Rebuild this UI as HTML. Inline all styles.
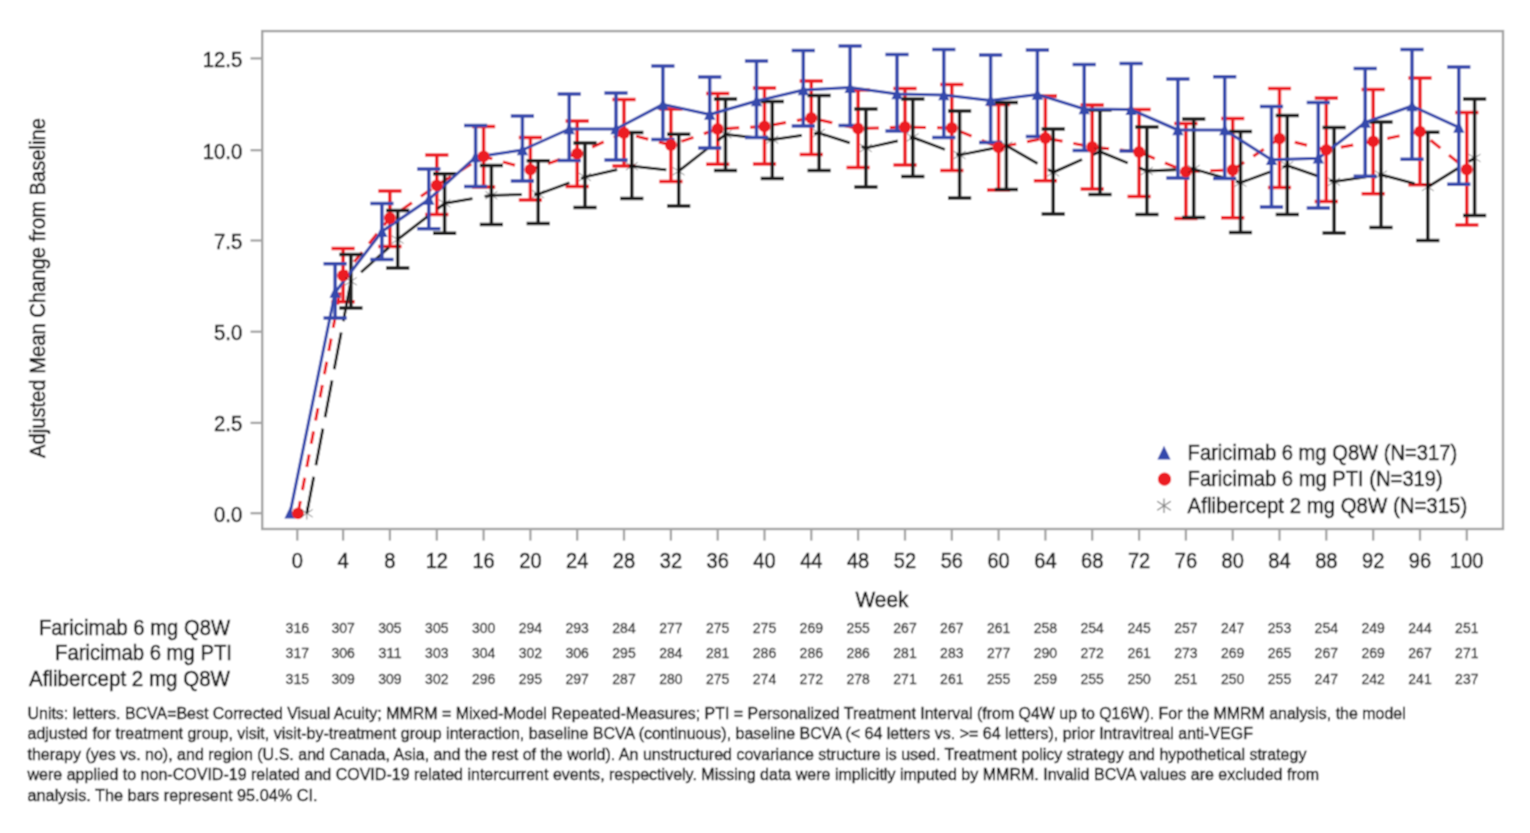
<!DOCTYPE html>
<html><head><meta charset="utf-8"><title>Adjusted Mean Change from Baseline</title>
<style>html,body{margin:0;padding:0;background:#fff}svg{display:block}</style></head>
<body>
<svg width="1530" height="833" viewBox="0 0 1530 833">
<defs><filter id="soft" x="0" y="0" width="1530" height="833" filterUnits="userSpaceOnUse"><feConvolveMatrix order="3" kernelMatrix="1 2 1 2 4 2 1 2 1" divisor="16" edgeMode="duplicate" preserveAlpha="true"/></filter></defs>
<rect width="1530" height="833" fill="#fff"/>
<g filter="url(#soft)">
<rect width="1530" height="833" fill="#fff"/>
<rect x="262.2" y="31.1" width="1240.8" height="497.9" fill="none" stroke="#a3a3a3" stroke-width="2.4"/>
<g stroke="#a3a3a3" stroke-width="2.3">
<line x1="250.5" x2="262" y1="513.2" y2="513.2"/>
<line x1="250.5" x2="262" y1="422.9" y2="422.9"/>
<line x1="250.5" x2="262" y1="331.7" y2="331.7"/>
<line x1="250.5" x2="262" y1="240.5" y2="240.5"/>
<line x1="250.5" x2="262" y1="150.2" y2="150.2"/>
<line x1="250.5" x2="262" y1="58.4" y2="58.4"/>
<line x1="297.3" x2="297.3" y1="529" y2="540.6"/>
<line x1="343.1" x2="343.1" y1="529" y2="540.6"/>
<line x1="389.9" x2="389.9" y1="529" y2="540.6"/>
<line x1="436.8" x2="436.8" y1="529" y2="540.6"/>
<line x1="483.6" x2="483.6" y1="529" y2="540.6"/>
<line x1="530.4" x2="530.4" y1="529" y2="540.6"/>
<line x1="577.2" x2="577.2" y1="529" y2="540.6"/>
<line x1="624.0" x2="624.0" y1="529" y2="540.6"/>
<line x1="670.9" x2="670.9" y1="529" y2="540.6"/>
<line x1="717.7" x2="717.7" y1="529" y2="540.6"/>
<line x1="764.5" x2="764.5" y1="529" y2="540.6"/>
<line x1="811.3" x2="811.3" y1="529" y2="540.6"/>
<line x1="858.1" x2="858.1" y1="529" y2="540.6"/>
<line x1="905.0" x2="905.0" y1="529" y2="540.6"/>
<line x1="951.8" x2="951.8" y1="529" y2="540.6"/>
<line x1="998.6" x2="998.6" y1="529" y2="540.6"/>
<line x1="1045.4" x2="1045.4" y1="529" y2="540.6"/>
<line x1="1092.2" x2="1092.2" y1="529" y2="540.6"/>
<line x1="1139.1" x2="1139.1" y1="529" y2="540.6"/>
<line x1="1185.9" x2="1185.9" y1="529" y2="540.6"/>
<line x1="1232.7" x2="1232.7" y1="529" y2="540.6"/>
<line x1="1279.5" x2="1279.5" y1="529" y2="540.6"/>
<line x1="1326.3" x2="1326.3" y1="529" y2="540.6"/>
<line x1="1373.2" x2="1373.2" y1="529" y2="540.6"/>
<line x1="1420.0" x2="1420.0" y1="529" y2="540.6"/>
<line x1="1466.8" x2="1466.8" y1="529" y2="540.6"/>
</g>
<g font-family="'Liberation Sans', sans-serif" font-size="22" fill="#1a1a1a" stroke="#1a1a1a" stroke-width="0.55">
<g text-anchor="end">
<text x="242.3" y="521.7" textLength="28.2" lengthAdjust="spacingAndGlyphs">0.0</text>
<text x="242.3" y="431.4" textLength="28.2" lengthAdjust="spacingAndGlyphs">2.5</text>
<text x="242.3" y="340.2" textLength="28.2" lengthAdjust="spacingAndGlyphs">5.0</text>
<text x="242.3" y="249.0" textLength="28.2" lengthAdjust="spacingAndGlyphs">7.5</text>
<text x="242.3" y="158.7" textLength="39.5" lengthAdjust="spacingAndGlyphs">10.0</text>
<text x="242.3" y="66.9" textLength="39.5" lengthAdjust="spacingAndGlyphs">12.5</text>
</g>
<g text-anchor="middle">
<text x="297.3" y="567.6" textLength="11.2" lengthAdjust="spacingAndGlyphs">0</text>
<text x="343.1" y="567.6" textLength="11.2" lengthAdjust="spacingAndGlyphs">4</text>
<text x="389.9" y="567.6" textLength="11.2" lengthAdjust="spacingAndGlyphs">8</text>
<text x="436.8" y="567.6" textLength="22.3" lengthAdjust="spacingAndGlyphs">12</text>
<text x="483.6" y="567.6" textLength="22.3" lengthAdjust="spacingAndGlyphs">16</text>
<text x="530.4" y="567.6" textLength="22.3" lengthAdjust="spacingAndGlyphs">20</text>
<text x="577.2" y="567.6" textLength="22.3" lengthAdjust="spacingAndGlyphs">24</text>
<text x="624.0" y="567.6" textLength="22.3" lengthAdjust="spacingAndGlyphs">28</text>
<text x="670.9" y="567.6" textLength="22.3" lengthAdjust="spacingAndGlyphs">32</text>
<text x="717.7" y="567.6" textLength="22.3" lengthAdjust="spacingAndGlyphs">36</text>
<text x="764.5" y="567.6" textLength="22.3" lengthAdjust="spacingAndGlyphs">40</text>
<text x="811.3" y="567.6" textLength="22.3" lengthAdjust="spacingAndGlyphs">44</text>
<text x="858.1" y="567.6" textLength="22.3" lengthAdjust="spacingAndGlyphs">48</text>
<text x="905.0" y="567.6" textLength="22.3" lengthAdjust="spacingAndGlyphs">52</text>
<text x="951.8" y="567.6" textLength="22.3" lengthAdjust="spacingAndGlyphs">56</text>
<text x="998.6" y="567.6" textLength="22.3" lengthAdjust="spacingAndGlyphs">60</text>
<text x="1045.4" y="567.6" textLength="22.3" lengthAdjust="spacingAndGlyphs">64</text>
<text x="1092.2" y="567.6" textLength="22.3" lengthAdjust="spacingAndGlyphs">68</text>
<text x="1139.1" y="567.6" textLength="22.3" lengthAdjust="spacingAndGlyphs">72</text>
<text x="1185.9" y="567.6" textLength="22.3" lengthAdjust="spacingAndGlyphs">76</text>
<text x="1232.7" y="567.6" textLength="22.3" lengthAdjust="spacingAndGlyphs">80</text>
<text x="1279.5" y="567.6" textLength="22.3" lengthAdjust="spacingAndGlyphs">84</text>
<text x="1326.3" y="567.6" textLength="22.3" lengthAdjust="spacingAndGlyphs">88</text>
<text x="1373.2" y="567.6" textLength="22.3" lengthAdjust="spacingAndGlyphs">92</text>
<text x="1420.0" y="567.6" textLength="22.3" lengthAdjust="spacingAndGlyphs">96</text>
<text x="1466.8" y="567.6" textLength="33.5" lengthAdjust="spacingAndGlyphs">100</text>
<text x="882" y="607" textLength="52.8" lengthAdjust="spacingAndGlyphs">Week</text>
<text transform="translate(44.7 288) rotate(-90)" textLength="340" lengthAdjust="spacingAndGlyphs">Adjusted Mean Change from Baseline</text>
</g>
<text x="1187.6" y="460.1" textLength="269.6" lengthAdjust="spacingAndGlyphs">Faricimab 6 mg Q8W (N=317)</text>
<text x="1187.6" y="486.3" textLength="255.2" lengthAdjust="spacingAndGlyphs">Faricimab 6 mg PTI (N=319)</text>
<text x="1187.6" y="512.5" textLength="279.6" lengthAdjust="spacingAndGlyphs">Aflibercept 2 mg Q8W (N=315)</text>
<g text-anchor="end">
<text x="230" y="634.8" textLength="191" lengthAdjust="spacingAndGlyphs">Faricimab 6 mg Q8W</text>
<text x="232" y="660.3" textLength="177" lengthAdjust="spacingAndGlyphs">Faricimab 6 mg PTI</text>
<text x="230" y="685.8" textLength="201" lengthAdjust="spacingAndGlyphs">Aflibercept 2 mg Q8W</text>
</g>
</g>
<g font-family="'Liberation Sans', sans-serif" font-size="14.7" fill="#222" stroke="#222" stroke-width="0.3" text-anchor="middle">
<text x="297.3" y="632.7" textLength="23.4" lengthAdjust="spacingAndGlyphs">316</text>
<text x="343.1" y="632.7" textLength="23.4" lengthAdjust="spacingAndGlyphs">307</text>
<text x="389.9" y="632.7" textLength="23.4" lengthAdjust="spacingAndGlyphs">305</text>
<text x="436.8" y="632.7" textLength="23.4" lengthAdjust="spacingAndGlyphs">305</text>
<text x="483.6" y="632.7" textLength="23.4" lengthAdjust="spacingAndGlyphs">300</text>
<text x="530.4" y="632.7" textLength="23.4" lengthAdjust="spacingAndGlyphs">294</text>
<text x="577.2" y="632.7" textLength="23.4" lengthAdjust="spacingAndGlyphs">293</text>
<text x="624.0" y="632.7" textLength="23.4" lengthAdjust="spacingAndGlyphs">284</text>
<text x="670.9" y="632.7" textLength="23.4" lengthAdjust="spacingAndGlyphs">277</text>
<text x="717.7" y="632.7" textLength="23.4" lengthAdjust="spacingAndGlyphs">275</text>
<text x="764.5" y="632.7" textLength="23.4" lengthAdjust="spacingAndGlyphs">275</text>
<text x="811.3" y="632.7" textLength="23.4" lengthAdjust="spacingAndGlyphs">269</text>
<text x="858.1" y="632.7" textLength="23.4" lengthAdjust="spacingAndGlyphs">255</text>
<text x="905.0" y="632.7" textLength="23.4" lengthAdjust="spacingAndGlyphs">267</text>
<text x="951.8" y="632.7" textLength="23.4" lengthAdjust="spacingAndGlyphs">267</text>
<text x="998.6" y="632.7" textLength="23.4" lengthAdjust="spacingAndGlyphs">261</text>
<text x="1045.4" y="632.7" textLength="23.4" lengthAdjust="spacingAndGlyphs">258</text>
<text x="1092.2" y="632.7" textLength="23.4" lengthAdjust="spacingAndGlyphs">254</text>
<text x="1139.1" y="632.7" textLength="23.4" lengthAdjust="spacingAndGlyphs">245</text>
<text x="1185.9" y="632.7" textLength="23.4" lengthAdjust="spacingAndGlyphs">257</text>
<text x="1232.7" y="632.7" textLength="23.4" lengthAdjust="spacingAndGlyphs">247</text>
<text x="1279.5" y="632.7" textLength="23.4" lengthAdjust="spacingAndGlyphs">253</text>
<text x="1326.3" y="632.7" textLength="23.4" lengthAdjust="spacingAndGlyphs">254</text>
<text x="1373.2" y="632.7" textLength="23.4" lengthAdjust="spacingAndGlyphs">249</text>
<text x="1420.0" y="632.7" textLength="23.4" lengthAdjust="spacingAndGlyphs">244</text>
<text x="1466.8" y="632.7" textLength="23.4" lengthAdjust="spacingAndGlyphs">251</text>
<text x="297.3" y="658.1" textLength="23.4" lengthAdjust="spacingAndGlyphs">317</text>
<text x="343.1" y="658.1" textLength="23.4" lengthAdjust="spacingAndGlyphs">306</text>
<text x="389.9" y="658.1" textLength="23.4" lengthAdjust="spacingAndGlyphs">311</text>
<text x="436.8" y="658.1" textLength="23.4" lengthAdjust="spacingAndGlyphs">303</text>
<text x="483.6" y="658.1" textLength="23.4" lengthAdjust="spacingAndGlyphs">304</text>
<text x="530.4" y="658.1" textLength="23.4" lengthAdjust="spacingAndGlyphs">302</text>
<text x="577.2" y="658.1" textLength="23.4" lengthAdjust="spacingAndGlyphs">306</text>
<text x="624.0" y="658.1" textLength="23.4" lengthAdjust="spacingAndGlyphs">295</text>
<text x="670.9" y="658.1" textLength="23.4" lengthAdjust="spacingAndGlyphs">284</text>
<text x="717.7" y="658.1" textLength="23.4" lengthAdjust="spacingAndGlyphs">281</text>
<text x="764.5" y="658.1" textLength="23.4" lengthAdjust="spacingAndGlyphs">286</text>
<text x="811.3" y="658.1" textLength="23.4" lengthAdjust="spacingAndGlyphs">286</text>
<text x="858.1" y="658.1" textLength="23.4" lengthAdjust="spacingAndGlyphs">286</text>
<text x="905.0" y="658.1" textLength="23.4" lengthAdjust="spacingAndGlyphs">281</text>
<text x="951.8" y="658.1" textLength="23.4" lengthAdjust="spacingAndGlyphs">283</text>
<text x="998.6" y="658.1" textLength="23.4" lengthAdjust="spacingAndGlyphs">277</text>
<text x="1045.4" y="658.1" textLength="23.4" lengthAdjust="spacingAndGlyphs">290</text>
<text x="1092.2" y="658.1" textLength="23.4" lengthAdjust="spacingAndGlyphs">272</text>
<text x="1139.1" y="658.1" textLength="23.4" lengthAdjust="spacingAndGlyphs">261</text>
<text x="1185.9" y="658.1" textLength="23.4" lengthAdjust="spacingAndGlyphs">273</text>
<text x="1232.7" y="658.1" textLength="23.4" lengthAdjust="spacingAndGlyphs">269</text>
<text x="1279.5" y="658.1" textLength="23.4" lengthAdjust="spacingAndGlyphs">265</text>
<text x="1326.3" y="658.1" textLength="23.4" lengthAdjust="spacingAndGlyphs">267</text>
<text x="1373.2" y="658.1" textLength="23.4" lengthAdjust="spacingAndGlyphs">269</text>
<text x="1420.0" y="658.1" textLength="23.4" lengthAdjust="spacingAndGlyphs">267</text>
<text x="1466.8" y="658.1" textLength="23.4" lengthAdjust="spacingAndGlyphs">271</text>
<text x="297.3" y="683.5" textLength="23.4" lengthAdjust="spacingAndGlyphs">315</text>
<text x="343.1" y="683.5" textLength="23.4" lengthAdjust="spacingAndGlyphs">309</text>
<text x="389.9" y="683.5" textLength="23.4" lengthAdjust="spacingAndGlyphs">309</text>
<text x="436.8" y="683.5" textLength="23.4" lengthAdjust="spacingAndGlyphs">302</text>
<text x="483.6" y="683.5" textLength="23.4" lengthAdjust="spacingAndGlyphs">296</text>
<text x="530.4" y="683.5" textLength="23.4" lengthAdjust="spacingAndGlyphs">295</text>
<text x="577.2" y="683.5" textLength="23.4" lengthAdjust="spacingAndGlyphs">297</text>
<text x="624.0" y="683.5" textLength="23.4" lengthAdjust="spacingAndGlyphs">287</text>
<text x="670.9" y="683.5" textLength="23.4" lengthAdjust="spacingAndGlyphs">280</text>
<text x="717.7" y="683.5" textLength="23.4" lengthAdjust="spacingAndGlyphs">275</text>
<text x="764.5" y="683.5" textLength="23.4" lengthAdjust="spacingAndGlyphs">274</text>
<text x="811.3" y="683.5" textLength="23.4" lengthAdjust="spacingAndGlyphs">272</text>
<text x="858.1" y="683.5" textLength="23.4" lengthAdjust="spacingAndGlyphs">278</text>
<text x="905.0" y="683.5" textLength="23.4" lengthAdjust="spacingAndGlyphs">271</text>
<text x="951.8" y="683.5" textLength="23.4" lengthAdjust="spacingAndGlyphs">261</text>
<text x="998.6" y="683.5" textLength="23.4" lengthAdjust="spacingAndGlyphs">255</text>
<text x="1045.4" y="683.5" textLength="23.4" lengthAdjust="spacingAndGlyphs">259</text>
<text x="1092.2" y="683.5" textLength="23.4" lengthAdjust="spacingAndGlyphs">255</text>
<text x="1139.1" y="683.5" textLength="23.4" lengthAdjust="spacingAndGlyphs">250</text>
<text x="1185.9" y="683.5" textLength="23.4" lengthAdjust="spacingAndGlyphs">251</text>
<text x="1232.7" y="683.5" textLength="23.4" lengthAdjust="spacingAndGlyphs">250</text>
<text x="1279.5" y="683.5" textLength="23.4" lengthAdjust="spacingAndGlyphs">255</text>
<text x="1326.3" y="683.5" textLength="23.4" lengthAdjust="spacingAndGlyphs">247</text>
<text x="1373.2" y="683.5" textLength="23.4" lengthAdjust="spacingAndGlyphs">242</text>
<text x="1420.0" y="683.5" textLength="23.4" lengthAdjust="spacingAndGlyphs">241</text>
<text x="1466.8" y="683.5" textLength="23.4" lengthAdjust="spacingAndGlyphs">237</text>
</g>
<g font-family="'Liberation Sans', sans-serif" font-size="16" fill="#111" stroke="#111" stroke-width="0.45">
<text x="27.5" y="718.7" textLength="1378.2" lengthAdjust="spacingAndGlyphs">Units: letters. BCVA=Best Corrected Visual Acuity; MMRM = Mixed-Model Repeated-Measures; PTI = Personalized Treatment Interval (from Q4W up to Q16W). For the MMRM analysis, the model</text>
<text x="27.5" y="739.2" textLength="1225.4" lengthAdjust="spacingAndGlyphs">adjusted for treatment group, visit, visit-by-treatment group interaction, baseline BCVA (continuous), baseline BCVA (&lt; 64 letters vs. &gt;= 64 letters), prior Intravitreal anti-VEGF</text>
<text x="27.5" y="759.7" textLength="1278.9" lengthAdjust="spacingAndGlyphs">therapy (yes vs. no), and region (U.S. and Canada, Asia, and the rest of the world). An unstructured covariance structure is used. Treatment policy strategy and hypothetical strategy</text>
<text x="27.5" y="780.2" textLength="1291.5" lengthAdjust="spacingAndGlyphs">were applied to non-COVID-19 related and COVID-19 related intercurrent events, respectively. Missing data were implicitly imputed by MMRM. Invalid BCVA values are excluded from</text>
<text x="27.5" y="800.7" textLength="290" lengthAdjust="spacingAndGlyphs">analysis. The bars represent 95.04% CI.</text>
</g>
<path d="M343.1 248.5V301.7M331.5 248.5H354.7M331.5 301.7H354.7M389.9 191.0V246.6M378.3 191.0H401.5M378.3 246.6H401.5M436.8 155.0V214.4M425.2 155.0H448.4M425.2 214.4H448.4M483.6 126.4V187.0M472.0 126.4H495.2M472.0 187.0H495.2M530.4 137.4V200.0M518.8 137.4H542.0M518.8 200.0H542.0M577.2 121.0V186.4M565.6 121.0H588.8M565.6 186.4H588.8M624.0 99.6V166.0M612.4 99.6H635.6M612.4 166.0H635.6M670.9 109.0V181.4M659.3 109.0H682.5M659.3 181.4H682.5M717.7 93.6V164.2M706.1 93.6H729.3M706.1 164.2H729.3M764.5 88.0V164.0M752.9 88.0H776.1M752.9 164.0H776.1M811.3 81.0V154.6M799.7 81.0H822.9M799.7 154.6H822.9M858.1 90.0V167.6M846.5 90.0H869.7M846.5 167.6H869.7M905.0 88.4V165.0M893.4 88.4H916.6M893.4 165.0H916.6M951.8 84.5V170.4M940.2 84.5H963.4M940.2 170.4H963.4M998.6 104.4V190.0M987.0 104.4H1010.2M987.0 190.0H1010.2M1045.4 96.0V180.7M1033.8 96.0H1057.0M1033.8 180.7H1057.0M1092.2 105.0V189.0M1080.6 105.0H1103.8M1080.6 189.0H1103.8M1139.1 109.4V196.4M1127.5 109.4H1150.7M1127.5 196.4H1150.7M1185.9 123.4V218.6M1174.3 123.4H1197.5M1174.3 218.6H1197.5M1232.7 118.5V217.8M1221.1 118.5H1244.3M1221.1 217.8H1244.3M1279.5 88.6V187.4M1267.9 88.6H1291.1M1267.9 187.4H1291.1M1326.3 98.0V201.4M1314.7 98.0H1337.9M1314.7 201.4H1337.9M1373.2 89.4V193.8M1361.6 89.4H1384.8M1361.6 193.8H1384.8M1420.0 78.0V184.7M1408.4 78.0H1431.6M1408.4 184.7H1431.6M1466.8 112.4V225.0M1455.2 112.4H1478.4M1455.2 225.0H1478.4" stroke="#ec1c24" stroke-width="3.5" fill="none"/>
<polyline points="298.0,513.3 343.1,275.5 389.9,218.0 436.8,185.3 483.6,156.4 530.4,169.6 577.2,153.6 624.0,133.0 670.9,145.0 717.7,129.0 764.5,126.4 811.3,118.0 858.1,128.6 905.0,127.0 951.8,128.0 998.6,147.4 1045.4,138.0 1092.2,147.0 1139.1,152.0 1185.9,171.6 1232.7,170.0 1279.5,138.6 1326.3,149.8 1373.2,141.4 1420.0,131.6 1466.8,169.5" fill="none" stroke="#ec1c24" stroke-width="3.0" stroke-dasharray="12.6 11" stroke-linejoin="round"/>
<path d="M350.9 254.5V308.0M339.3 254.5H362.5M339.3 308.0H362.5M397.7 210.4V268.0M386.1 210.4H409.3M386.1 268.0H409.3M444.6 173.7V233.3M433.0 173.7H456.2M433.0 233.3H456.2M491.4 165.6V224.6M479.8 165.6H503.0M479.8 224.6H503.0M538.2 160.8V223.6M526.6 160.8H549.8M526.6 223.6H549.8M585.0 143.0V207.6M573.4 143.0H596.6M573.4 207.6H596.6M631.8 132.5V198.6M620.2 132.5H643.4M620.2 198.6H643.4M678.7 134.2V206.0M667.1 134.2H690.3M667.1 206.0H690.3M725.5 99.0V170.4M713.9 99.0H737.1M713.9 170.4H737.1M772.3 101.4V178.4M760.7 101.4H783.9M760.7 178.4H783.9M819.1 95.6V170.4M807.5 95.6H830.7M807.5 170.4H830.7M865.9 109.0V187.0M854.3 109.0H877.5M854.3 187.0H877.5M912.8 99.0V176.4M901.2 99.0H924.4M901.2 176.4H924.4M959.6 111.0V198.0M948.0 111.0H971.2M948.0 198.0H971.2M1006.4 102.4V189.4M994.8 102.4H1018.0M994.8 189.4H1018.0M1053.2 129.0V214.0M1041.6 129.0H1064.8M1041.6 214.0H1064.8M1100.0 110.0V194.4M1088.4 110.0H1111.6M1088.4 194.4H1111.6M1146.9 127.0V214.4M1135.3 127.0H1158.5M1135.3 214.4H1158.5M1193.7 119.0V217.4M1182.1 119.0H1205.3M1182.1 217.4H1205.3M1240.5 131.6V232.5M1228.9 131.6H1252.1M1228.9 232.5H1252.1M1287.3 115.6V214.4M1275.7 115.6H1298.9M1275.7 214.4H1298.9M1334.1 127.6V233.0M1322.5 127.6H1345.7M1322.5 233.0H1345.7M1381.0 122.0V227.4M1369.4 122.0H1392.6M1369.4 227.4H1392.6M1427.8 132.2V240.6M1416.2 132.2H1439.4M1416.2 240.6H1439.4M1474.6 99.0V215.4M1463.0 99.0H1486.2M1463.0 215.4H1486.2" stroke="#1c1c1c" stroke-width="3.5" fill="none"/>
<polyline points="306.8,513.3 350.9,281.3" fill="none" stroke="#1c1c1c" stroke-width="2.8" stroke-dasharray="37.3 11.6"/>
<polyline points="350.9,281.3 397.7,239.6 444.6,203.3 491.4,195.3 538.2,194.2 585.0,177.0 631.8,166.2 678.7,171.2 725.5,134.4 772.3,139.6 819.1,133.0 865.9,148.0 912.8,137.4 959.6,155.0 1006.4,145.6 1053.2,172.4 1100.0,151.6 1146.9,171.0 1193.7,169.0 1240.5,182.7 1287.3,165.5 1334.1,181.7 1381.0,174.7 1427.8,187.0 1474.6,158.0" fill="none" stroke="#1c1c1c" stroke-width="2.8" stroke-dasharray="37.3 12.35" stroke-dashoffset="36" stroke-linejoin="round"/>
<path d="M335.1 263.8V318.1M323.5 263.8H346.7M323.5 318.1H346.7M381.9 203.4V259.6M370.3 203.4H393.5M370.3 259.6H393.5M428.8 169.0V228.7M417.2 169.0H440.4M417.2 228.7H440.4M475.6 125.6V186.4M464.0 125.6H487.2M464.0 186.4H487.2M522.4 116.0V181.0M510.8 116.0H534.0M510.8 181.0H534.0M569.2 94.0V160.6M557.6 94.0H580.8M557.6 160.6H580.8M616.0 93.0V160.0M604.4 93.0H627.6M604.4 160.0H627.6M662.9 66.0V139.4M651.3 66.0H674.5M651.3 139.4H674.5M709.7 77.0V148.0M698.1 77.0H721.3M698.1 148.0H721.3M756.5 61.0V137.4M744.9 61.0H768.1M744.9 137.4H768.1M803.3 50.6V126.0M791.7 50.6H814.9M791.7 126.0H814.9M850.1 46.0V125.6M838.5 46.0H861.7M838.5 125.6H861.7M897.0 54.4V131.0M885.4 54.4H908.6M885.4 131.0H908.6M943.8 49.5V137.4M932.2 49.5H955.4M932.2 137.4H955.4M990.6 55.0V142.4M979.0 55.0H1002.2M979.0 142.4H1002.2M1037.4 50.0V136.6M1025.8 50.0H1049.0M1025.8 136.6H1049.0M1084.2 64.4V150.4M1072.6 64.4H1095.8M1072.6 150.4H1095.8M1131.1 63.4V151.0M1119.5 63.4H1142.7M1119.5 151.0H1142.7M1177.9 79.0V178.0M1166.3 79.0H1189.5M1166.3 178.0H1189.5M1224.7 76.8V178.5M1213.1 76.8H1236.3M1213.1 178.5H1236.3M1271.5 106.6V207.0M1259.9 106.6H1283.1M1259.9 207.0H1283.1M1318.3 102.4V208.0M1306.7 102.4H1329.9M1306.7 208.0H1329.9M1365.2 68.4V176.2M1353.6 68.4H1376.8M1353.6 176.2H1376.8M1412.0 49.4V159.3M1400.4 49.4H1423.6M1400.4 159.3H1423.6M1458.8 67.0V184.2M1447.2 67.0H1470.4M1447.2 184.2H1470.4" stroke="#3648ac" stroke-width="3.5" fill="none"/>
<polyline points="290.0,513.3 335.1,292.5 381.9,231.6 428.8,199.5 475.6,157.0 522.4,150.0 569.2,129.0 616.0,129.0 662.9,104.4 709.7,114.5 756.5,101.0 803.3,90.0 850.1,87.6 897.0,94.0 943.8,95.0 990.6,100.4 1037.4,94.4 1084.2,109.0 1131.1,109.6 1177.9,130.0 1224.7,130.0 1271.5,159.8 1318.3,158.3 1365.2,122.4 1412.0,106.0 1458.8,127.4" fill="none" stroke="#3648ac" stroke-width="3.0" stroke-linejoin="round"/>
<path d="M290.0 506.9L295.6 518.6H284.4Z" fill="#3648ac"/>
<path d="M335.1 286.1L340.7 297.8H329.5Z" fill="#3648ac"/>
<path d="M381.9 225.2L387.5 236.9H376.3Z" fill="#3648ac"/>
<path d="M428.8 193.1L434.4 204.8H423.2Z" fill="#3648ac"/>
<path d="M475.6 150.6L481.2 162.3H470.0Z" fill="#3648ac"/>
<path d="M522.4 143.6L528.0 155.3H516.8Z" fill="#3648ac"/>
<path d="M569.2 122.6L574.8 134.3H563.6Z" fill="#3648ac"/>
<path d="M616.0 122.6L621.6 134.3H610.4Z" fill="#3648ac"/>
<path d="M662.9 98.0L668.5 109.7H657.3Z" fill="#3648ac"/>
<path d="M709.7 108.1L715.3 119.8H704.1Z" fill="#3648ac"/>
<path d="M756.5 94.6L762.1 106.3H750.9Z" fill="#3648ac"/>
<path d="M803.3 83.6L808.9 95.3H797.7Z" fill="#3648ac"/>
<path d="M850.1 81.2L855.7 92.9H844.5Z" fill="#3648ac"/>
<path d="M897.0 87.6L902.6 99.3H891.4Z" fill="#3648ac"/>
<path d="M943.8 88.6L949.4 100.3H938.2Z" fill="#3648ac"/>
<path d="M990.6 94.0L996.2 105.7H985.0Z" fill="#3648ac"/>
<path d="M1037.4 88.0L1043.0 99.7H1031.8Z" fill="#3648ac"/>
<path d="M1084.2 102.6L1089.8 114.3H1078.6Z" fill="#3648ac"/>
<path d="M1131.1 103.2L1136.7 114.9H1125.5Z" fill="#3648ac"/>
<path d="M1177.9 123.6L1183.5 135.3H1172.3Z" fill="#3648ac"/>
<path d="M1224.7 123.6L1230.3 135.3H1219.1Z" fill="#3648ac"/>
<path d="M1271.5 153.4L1277.1 165.1H1265.9Z" fill="#3648ac"/>
<path d="M1318.3 151.9L1323.9 163.6H1312.7Z" fill="#3648ac"/>
<path d="M1365.2 116.0L1370.8 127.7H1359.6Z" fill="#3648ac"/>
<path d="M1412.0 99.6L1417.6 111.3H1406.4Z" fill="#3648ac"/>
<path d="M1458.8 121.0L1464.4 132.7H1453.2Z" fill="#3648ac"/>
<circle cx="298.0" cy="513.3" r="5.9" fill="#ec1c24"/>
<circle cx="343.1" cy="275.5" r="5.9" fill="#ec1c24"/>
<circle cx="389.9" cy="218.0" r="5.9" fill="#ec1c24"/>
<circle cx="436.8" cy="185.3" r="5.9" fill="#ec1c24"/>
<circle cx="483.6" cy="156.4" r="5.9" fill="#ec1c24"/>
<circle cx="530.4" cy="169.6" r="5.9" fill="#ec1c24"/>
<circle cx="577.2" cy="153.6" r="5.9" fill="#ec1c24"/>
<circle cx="624.0" cy="133.0" r="5.9" fill="#ec1c24"/>
<circle cx="670.9" cy="145.0" r="5.9" fill="#ec1c24"/>
<circle cx="717.7" cy="129.0" r="5.9" fill="#ec1c24"/>
<circle cx="764.5" cy="126.4" r="5.9" fill="#ec1c24"/>
<circle cx="811.3" cy="118.0" r="5.9" fill="#ec1c24"/>
<circle cx="858.1" cy="128.6" r="5.9" fill="#ec1c24"/>
<circle cx="905.0" cy="127.0" r="5.9" fill="#ec1c24"/>
<circle cx="951.8" cy="128.0" r="5.9" fill="#ec1c24"/>
<circle cx="998.6" cy="147.4" r="5.9" fill="#ec1c24"/>
<circle cx="1045.4" cy="138.0" r="5.9" fill="#ec1c24"/>
<circle cx="1092.2" cy="147.0" r="5.9" fill="#ec1c24"/>
<circle cx="1139.1" cy="152.0" r="5.9" fill="#ec1c24"/>
<circle cx="1185.9" cy="171.6" r="5.9" fill="#ec1c24"/>
<circle cx="1232.7" cy="170.0" r="5.9" fill="#ec1c24"/>
<circle cx="1279.5" cy="138.6" r="5.9" fill="#ec1c24"/>
<circle cx="1326.3" cy="149.8" r="5.9" fill="#ec1c24"/>
<circle cx="1373.2" cy="141.4" r="5.9" fill="#ec1c24"/>
<circle cx="1420.0" cy="131.6" r="5.9" fill="#ec1c24"/>
<circle cx="1466.8" cy="169.5" r="5.9" fill="#ec1c24"/>
<path d="M306.8 507.1V519.5M300.9 509.5L312.7 517.1M300.9 517.1L312.7 509.5" stroke="#000" stroke-opacity="0.5" stroke-width="1.0" fill="none"/>
<path d="M350.9 275.1V287.5M345.0 277.5L356.8 285.1M345.0 285.1L356.8 277.5" stroke="#000" stroke-opacity="0.5" stroke-width="1.0" fill="none"/>
<path d="M397.7 233.4V245.8M391.9 235.8L403.6 243.4M391.9 243.4L403.6 235.8" stroke="#000" stroke-opacity="0.5" stroke-width="1.0" fill="none"/>
<path d="M444.6 197.1V209.5M438.7 199.5L450.4 207.1M438.7 207.1L450.4 199.5" stroke="#000" stroke-opacity="0.5" stroke-width="1.0" fill="none"/>
<path d="M491.4 189.1V201.5M485.5 191.5L497.3 199.1M485.5 199.1L497.3 191.5" stroke="#000" stroke-opacity="0.5" stroke-width="1.0" fill="none"/>
<path d="M538.2 188.0V200.4M532.3 190.4L544.1 198.0M532.3 198.0L544.1 190.4" stroke="#000" stroke-opacity="0.5" stroke-width="1.0" fill="none"/>
<path d="M585.0 170.8V183.2M579.1 173.2L590.9 180.8M579.1 180.8L590.9 173.2" stroke="#000" stroke-opacity="0.5" stroke-width="1.0" fill="none"/>
<path d="M631.8 160.0V172.4M625.9 162.4L637.7 170.0M625.9 170.0L637.7 162.4" stroke="#000" stroke-opacity="0.5" stroke-width="1.0" fill="none"/>
<path d="M678.7 165.0V177.4M672.8 167.4L684.5 175.0M672.8 175.0L684.5 167.4" stroke="#000" stroke-opacity="0.5" stroke-width="1.0" fill="none"/>
<path d="M725.5 128.2V140.6M719.6 130.6L731.4 138.2M719.6 138.2L731.4 130.6" stroke="#000" stroke-opacity="0.5" stroke-width="1.0" fill="none"/>
<path d="M772.3 133.4V145.8M766.4 135.8L778.2 143.4M766.4 143.4L778.2 135.8" stroke="#000" stroke-opacity="0.5" stroke-width="1.0" fill="none"/>
<path d="M819.1 126.8V139.2M813.2 129.2L825.0 136.8M813.2 136.8L825.0 129.2" stroke="#000" stroke-opacity="0.5" stroke-width="1.0" fill="none"/>
<path d="M865.9 141.8V154.2M860.1 144.2L871.8 151.8M860.1 151.8L871.8 144.2" stroke="#000" stroke-opacity="0.5" stroke-width="1.0" fill="none"/>
<path d="M912.8 131.2V143.6M906.9 133.6L918.6 141.2M906.9 141.2L918.6 133.6" stroke="#000" stroke-opacity="0.5" stroke-width="1.0" fill="none"/>
<path d="M959.6 148.8V161.2M953.7 151.2L965.5 158.8M953.7 158.8L965.5 151.2" stroke="#000" stroke-opacity="0.5" stroke-width="1.0" fill="none"/>
<path d="M1006.4 139.4V151.8M1000.5 141.8L1012.3 149.4M1000.5 149.4L1012.3 141.8" stroke="#000" stroke-opacity="0.5" stroke-width="1.0" fill="none"/>
<path d="M1053.2 166.2V178.6M1047.3 168.6L1059.1 176.2M1047.3 176.2L1059.1 168.6" stroke="#000" stroke-opacity="0.5" stroke-width="1.0" fill="none"/>
<path d="M1100.0 145.4V157.8M1094.1 147.8L1105.9 155.4M1094.1 155.4L1105.9 147.8" stroke="#000" stroke-opacity="0.5" stroke-width="1.0" fill="none"/>
<path d="M1146.9 164.8V177.2M1141.0 167.2L1152.8 174.8M1141.0 174.8L1152.8 167.2" stroke="#000" stroke-opacity="0.5" stroke-width="1.0" fill="none"/>
<path d="M1193.7 162.8V175.2M1187.8 165.2L1199.6 172.8M1187.8 172.8L1199.6 165.2" stroke="#000" stroke-opacity="0.5" stroke-width="1.0" fill="none"/>
<path d="M1240.5 176.5V188.9M1234.6 178.9L1246.4 186.5M1234.6 186.5L1246.4 178.9" stroke="#000" stroke-opacity="0.5" stroke-width="1.0" fill="none"/>
<path d="M1287.3 159.3V171.7M1281.4 161.7L1293.2 169.3M1281.4 169.3L1293.2 161.7" stroke="#000" stroke-opacity="0.5" stroke-width="1.0" fill="none"/>
<path d="M1334.1 175.5V187.9M1328.2 177.9L1340.0 185.5M1328.2 185.5L1340.0 177.9" stroke="#000" stroke-opacity="0.5" stroke-width="1.0" fill="none"/>
<path d="M1381.0 168.5V180.9M1375.1 170.9L1386.8 178.5M1375.1 178.5L1386.8 170.9" stroke="#000" stroke-opacity="0.5" stroke-width="1.0" fill="none"/>
<path d="M1427.8 180.8V193.2M1421.9 183.2L1433.7 190.8M1421.9 190.8L1433.7 183.2" stroke="#000" stroke-opacity="0.5" stroke-width="1.0" fill="none"/>
<path d="M1474.6 151.8V164.2M1468.7 154.2L1480.5 161.8M1468.7 161.8L1480.5 154.2" stroke="#000" stroke-opacity="0.5" stroke-width="1.0" fill="none"/>
<path d="M1164.0 445.8L1170.6 459.5H1157.4Z" fill="#3648ac"/>
<circle cx="1164.5" cy="479.2" r="6.6" fill="#ec1c24"/>
<path d="M1164.0 498.6V513.0M1157.2 501.3L1170.8 510.3M1157.2 510.3L1170.8 501.3" stroke="#000" stroke-opacity="0.5" stroke-width="1.2" fill="none"/>
</g>
</svg>
</body></html>
